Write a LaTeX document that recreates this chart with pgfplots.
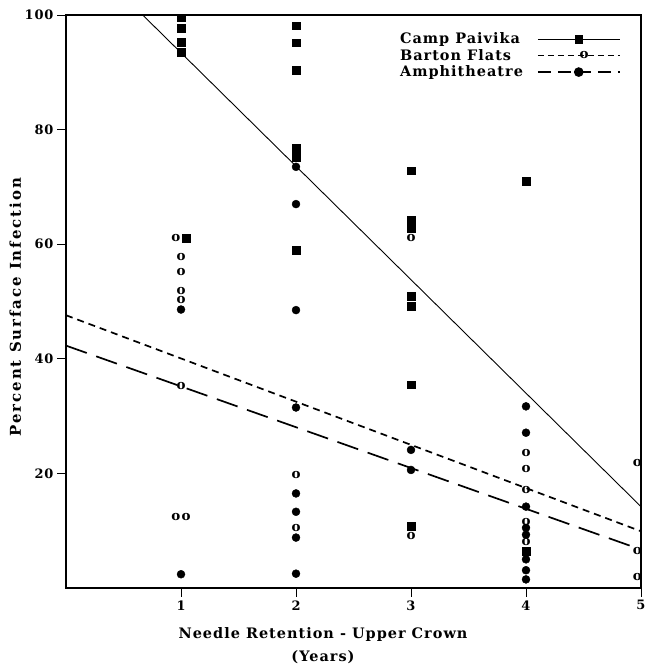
\documentclass[border=0pt]{standalone}
\usepackage{fontspec}
\setmainfont{DejaVu Serif}[LetterSpace=7]
\usepackage{pgfplots}
\pgfplotsset{compat=1.18}

% scatter data
\pgfplotstableread{
x y
1 99.5
1 97.7
1 95.3
1 93.5
1.045 61.0
2 98.1
2 95.2
2 90.4
2 76.8
2 75.2
2 59.0
3 72.8
3 64.3
3 62.8
3 50.9
3 49.2
3 35.5
3 10.8
4 71.0
4 6.4
}\paivika

\pgfplotstableread{
x y
0.955 61.0
1 57.8
1 55.2
1 51.8
1 50.2
1 35.2
0.955 12.4
1.045 12.4
2 19.8
2 10.5
3 61.0
3 9.0
4 23.6
4 20.8
4 17.1
4 11.6
4 8.1
4.968 21.8
4.968 6.5
4.968 2.0
}\barton

\pgfplotstableread{
x y
1 48.6
1 2.4
2 73.5
2 67.0
2 48.5
2 31.5
2 16.5
2 13.3
2 8.8
2 2.5
3 24.1
3 20.6
4 31.7
4 27.1
4 14.2
4 10.5
4 9.3
4 5.0
4 3.1
4 1.5
}\amphi

\begin{document}
\begin{tikzpicture}
\begin{axis}[
    width=575bp, height=573bp, scale only axis,
    xmin=0, xmax=5, ymin=0, ymax=100,
    xtick={1,2,3,4,5}, ytick={20,40,60,80,100},
    tick align=outside, tick pos=left,
    major tick length=9bp,
    axis line style={line width=1.2bp},
    every tick/.style={black, line width=0.8bp},
    clip=false,
    /pgf/number format/assume math mode=true,
    ticklabel style={font=\fontsize{13}{15}\selectfont\bfseries},
    xlabel={Needle Retention - Upper Crown\\[6bp](Years)},
    xlabel style={font=\fontsize{14.5}{17}\selectfont\bfseries, align=center,
        inner sep=0pt, at={(axis description cs:0.447,-0.068)}, anchor=north},
    ylabel={Percent Surface Infection},
    ylabel style={font=\fontsize{15}{17}\selectfont\bfseries\addfontfeatures{LetterSpace=13},
        at={(axis description cs:-0.088,0.49)}, anchor=center, rotate=0},
    legend plot pos=right,
    legend cell align=left,
    legend style={at={(axis description cs:0.97,0.976)}, anchor=north east,
        draw=none, fill=none, font=\fontsize{14.5}{17.5}\selectfont\bfseries,
        /tikz/every odd column/.append style={column sep=12bp}},
    legend image code/.code={\draw[mark repeat=2,mark phase=2,#1]
        plot coordinates {(0bp,0bp) (41bp,0bp) (82bp,0bp)};},
]
% points
\addplot[only marks, mark=square*, mark size=3.8bp, black, forget plot] table {\paivika};
\addplot[only marks, mark=text, text mark={o}, text mark as node=true,
    text mark style={font=\fontsize{13.5}{13.5}\selectfont\bfseries, inner sep=0pt},
    black, forget plot] table {\barton};
\addplot[only marks, mark=*, mark size=4bp, black, forget plot] table {\amphi};
% fitted lines
\addplot[black, line width=0.9bp, forget plot] coordinates {(0.667,100) (5,14.2)};
\addplot[black, line width=1.7bp, dash pattern=on 7bp off 5bp, forget plot] coordinates {(0,47.6) (5,9.9)};
\addplot[black, line width=1.7bp, dash pattern=on 22bp off 10bp, forget plot] coordinates {(0,42.3) (5,6.7)};
% legend
\addlegendimage{black, line width=0.9bp, mark=square*, mark size=3.8bp, mark options={solid}}
\addlegendentry{Camp Paivika}
\addlegendimage{black, line width=1.6bp, dash pattern=on 6bp off 4bp, mark=text, text mark={o},
    text mark as node=true, text mark style={font=\fontsize{13.5}{13.5}\selectfont\bfseries, inner sep=0pt}}
\addlegendentry{Barton Flats}
\addlegendimage{black, line width=1.6bp, dash pattern=on 13bp off 7bp, mark=*, mark size=4bp, mark options={solid}}
\addlegendentry{Amphitheatre}
% page margins as in the reference
\path (axis description cs:-0.1148,-0.1344) rectangle (axis description cs:1.0122,1.0262);
\end{axis}
\end{tikzpicture}
\end{document}
